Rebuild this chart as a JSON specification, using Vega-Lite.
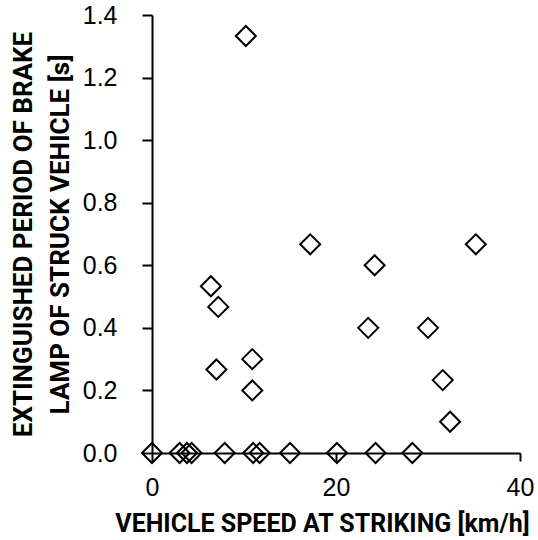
{
  "$schema": "https://vega.github.io/schema/vega-lite/v6.json",
  "autosize": "none",
  "width": 368,
  "height": 438,
  "padding": {"left": 152, "top": 15, "right": 18, "bottom": 87},
  "background": "white",
  "config": {"view": {"stroke": null}},
  "data": {"values": [
    {"speed": 0, "period": 0},
    {"speed": 3.0, "period": 0},
    {"speed": 3.8, "period": 0},
    {"speed": 4.3, "period": 0},
    {"speed": 7.9, "period": 0},
    {"speed": 11.0, "period": 0},
    {"speed": 11.7, "period": 0},
    {"speed": 15.0, "period": 0},
    {"speed": 20.1, "period": 0},
    {"speed": 24.3, "period": 0},
    {"speed": 28.3, "period": 0},
    {"speed": 6.4, "period": 0.533},
    {"speed": 7.2, "period": 0.467},
    {"speed": 7.0, "period": 0.267},
    {"speed": 10.9, "period": 0.3},
    {"speed": 10.9, "period": 0.2},
    {"speed": 10.2, "period": 1.333},
    {"speed": 17.2, "period": 0.667},
    {"speed": 24.2, "period": 0.6},
    {"speed": 35.2, "period": 0.667},
    {"speed": 23.5, "period": 0.4},
    {"speed": 30.0, "period": 0.4},
    {"speed": 31.6, "period": 0.233},
    {"speed": 32.4, "period": 0.1}
  ]},
  "mark": {"type": "point", "shape": "diamond", "size": 400, "filled": false, "stroke": "black", "strokeWidth": 2, "opacity": 1},
  "encoding": {
    "x": {
      "field": "speed", "type": "quantitative",
      "scale": {"domain": [0, 40], "nice": false, "zero": false},
      "axis": {
        "values": [0, 20, 40], "grid": false,
        "title": "VEHICLE SPEED AT STRIKING [km/h]",
        "titleFont": "Roboto", "titleFontWeight": "bold", "titleFontSize": 25, "titleColor": "black",
        "titleX": 170, "titleY": 70, "titleBaseline": "middle", "titleAlign": "center",
        "labelFont": "Liberation Sans", "labelFontSize": 25, "labelColor": "black", "labelPadding": 14,
        "tickSize": 8, "tickWidth": 2, "tickColor": "black",
        "domainWidth": 2, "domainColor": "black", "labelFlush": false
      }
    },
    "y": {
      "field": "period", "type": "quantitative",
      "scale": {"domain": [0, 1.4], "nice": false, "zero": false},
      "axis": {
        "values": [0, 0.2, 0.4, 0.6, 0.8, 1.0, 1.2, 1.4], "format": ".1f", "grid": false,
        "title": ["EXTINGUISHED PERIOD OF BRAKE", "LAMP OF STRUCK VEHICLE [s]"],
        "titleFont": "Roboto", "titleFontWeight": "bold", "titleFontSize": 26, "titleColor": "black",
        "titleLineHeight": 37,
        "titleX": -129, "titleY": 219, "titleAngle": -90, "titleBaseline": "middle", "titleAlign": "center",
        "labelFont": "Liberation Sans", "labelFontSize": 25, "labelColor": "black", "labelPadding": 25,
        "tickSize": 10, "tickWidth": 2, "tickColor": "black",
        "domainWidth": 2, "domainColor": "black", "labelFlush": false
      }
    }
  }
}
